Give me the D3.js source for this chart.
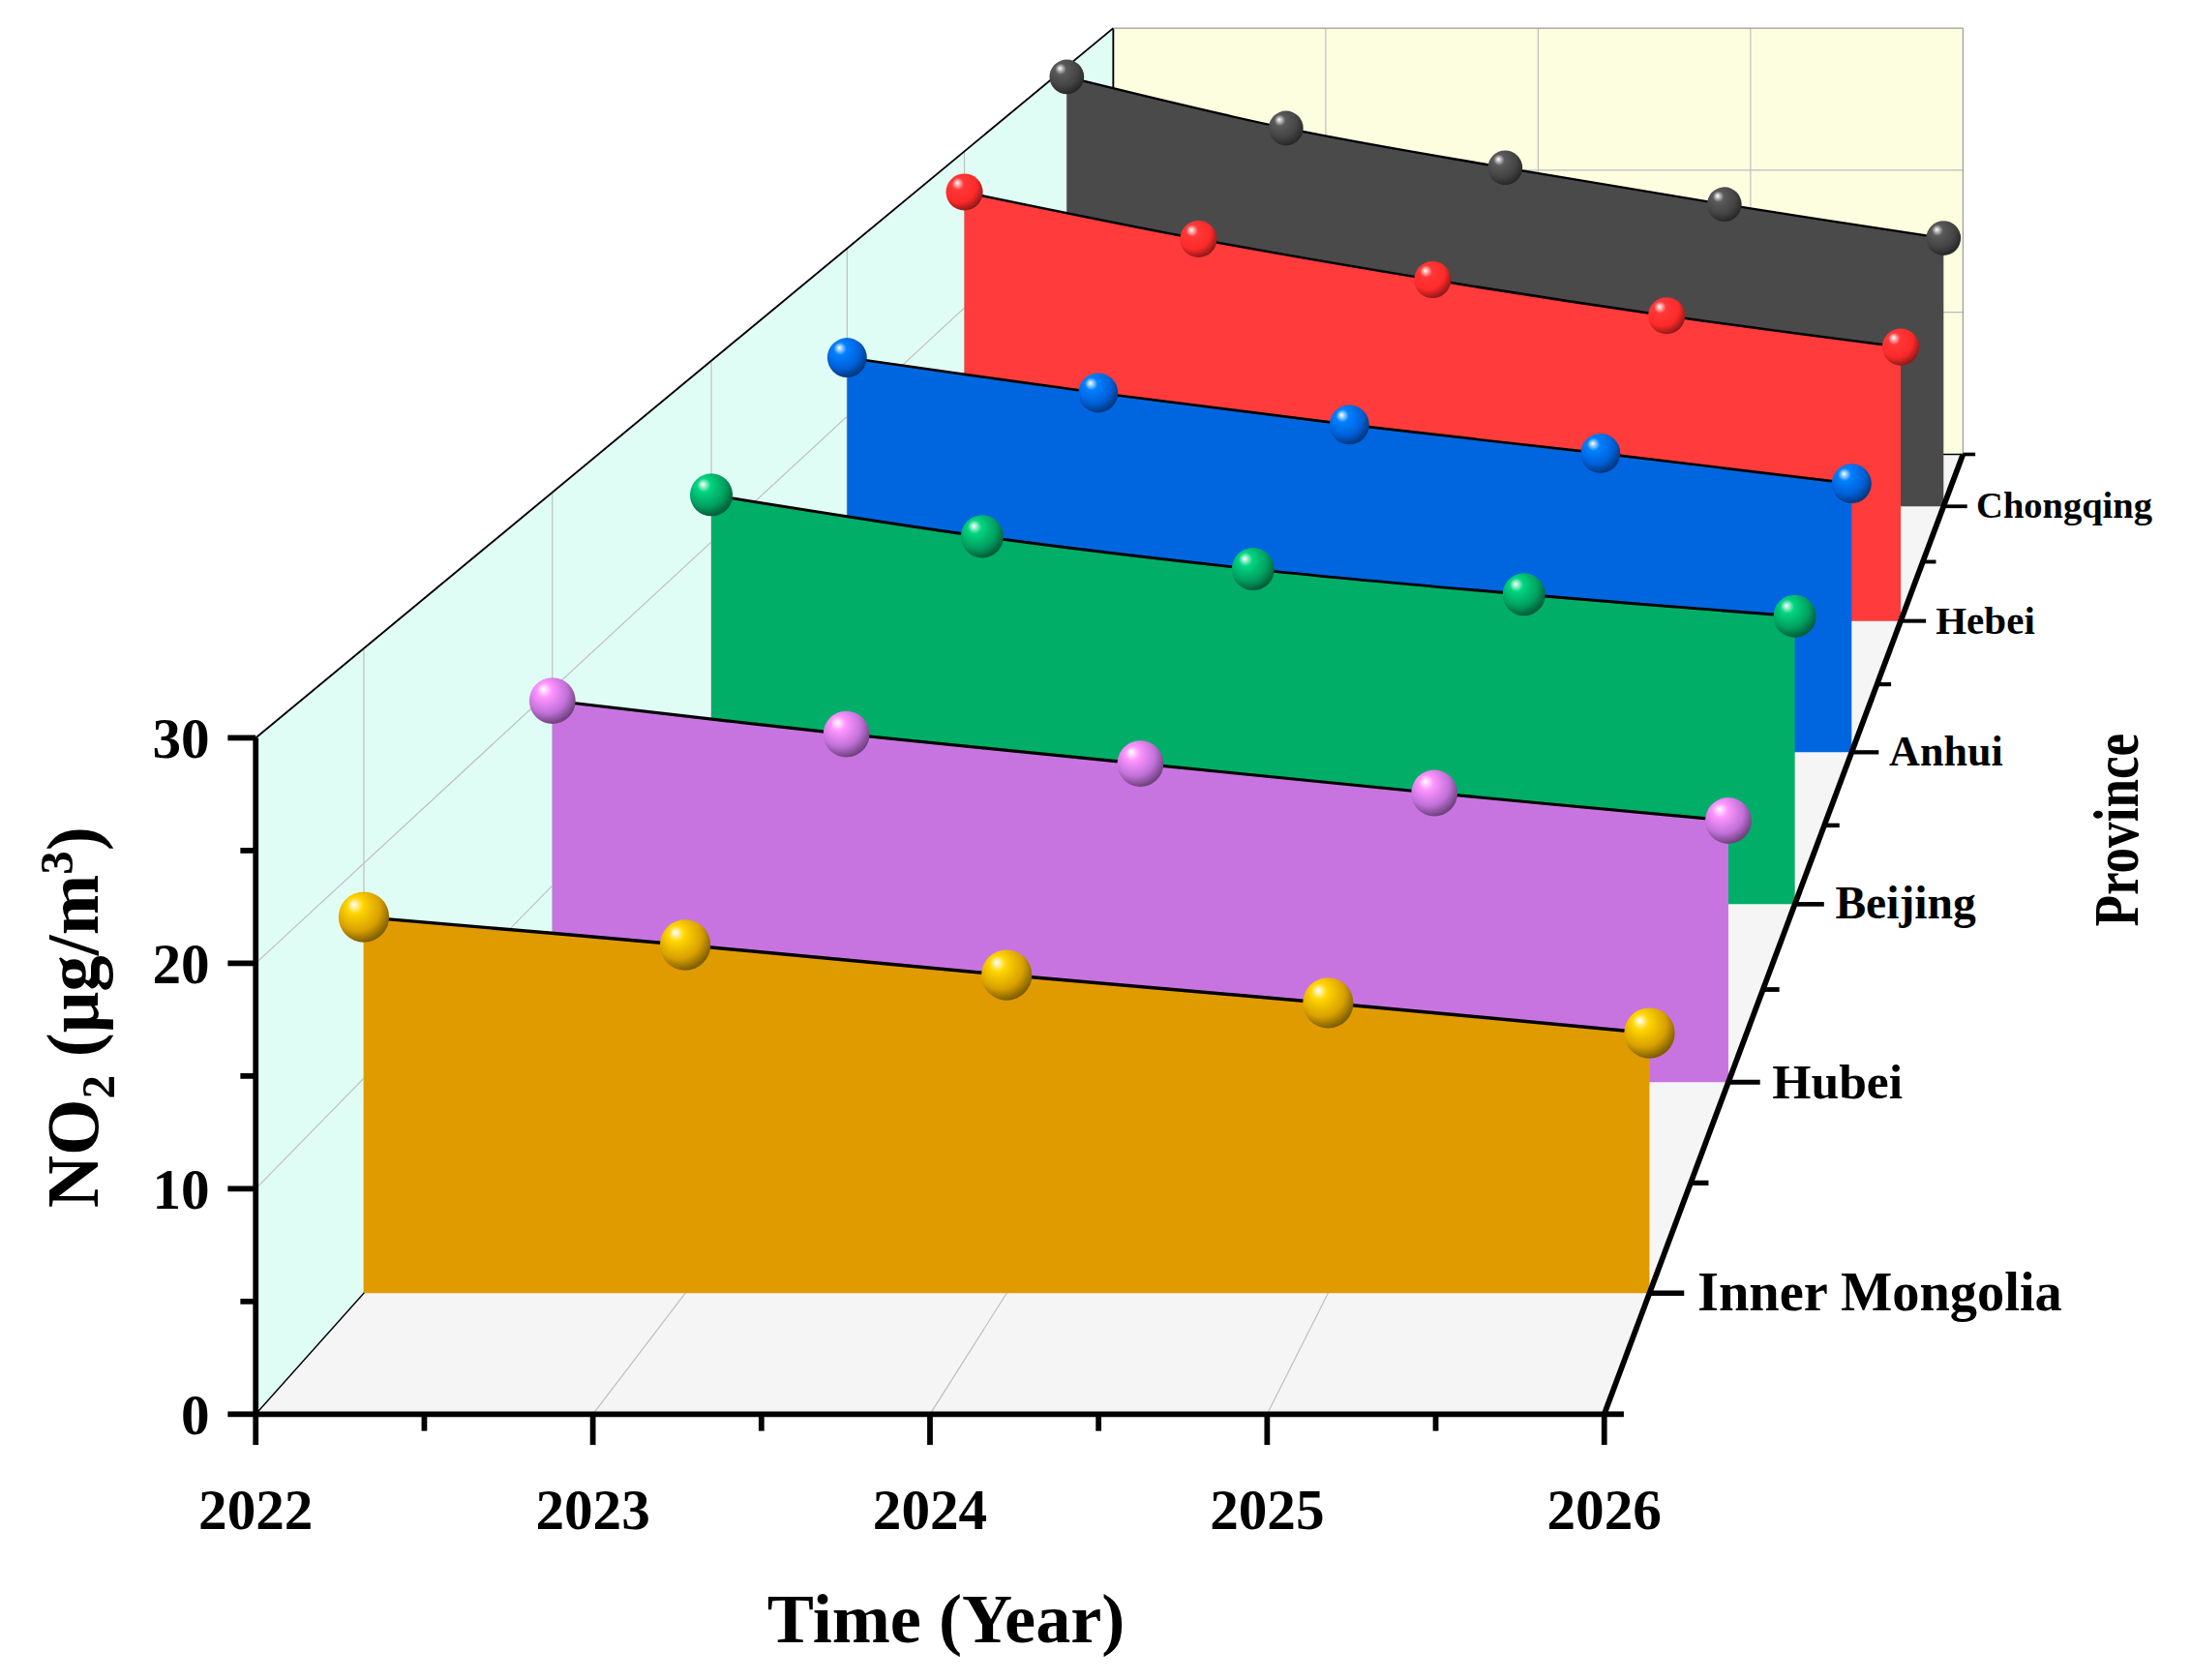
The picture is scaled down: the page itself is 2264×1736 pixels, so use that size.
<!DOCTYPE html>
<html><head><meta charset="utf-8">
<script src="https://cdn.jsdelivr.net/npm/d3@7"></script>
<style>body{margin:0;background:#fff}svg text{font-family:"Liberation Serif","Times New Roman",serif;font-weight:bold}</style>
</head><body><div id="chart"></div>
<script>
// data
const years = [2022, 2023, 2024, 2025, 2026];
const provinces = ["Inner Mongolia", "Hubei", "Beijing", "Anhui", "Hebei", "Chongqing"];
const colors = ["#e09b00", "#c874e0", "#00ae68", "#0066e0", "#ff3b3b", "#4a4a4a"];
const sphereColors = ["#d9a000", "#c070d8", "#00a060", "#0060d8", "#ff2a2a", "#444444"];
const innerMongolia = [17.5, 16.2, 14.8, 13.5, 12.1];
const hubei = [19.4, 17.7, 16.2, 14.7, 13.3];
const beijing = [22.6, 20.3, 18.5, 17.1, 15.9];
const anhui = [23.5, 21.4, 19.5, 17.8, 16.0];
const hebei = [27.4, 24.4, 21.8, 19.5, 17.5];
const chongqing = [29.3, 25.8, 23.1, 20.6, 18.3];
const series = [innerMongolia, hubei, beijing, anhui, hebei, chongqing];

const SCALE = 1.444;
const svg = d3.select("#chart").append("svg").attr("width", 2264).attr("height", 1736);
const defs = svg.append("defs");
const root = svg.append("g").attr("transform", `scale(${SCALE})`);

// front plane scales + perspective into depth
const x = d3.scaleLinear().domain([2022, 2026]).range([183, 1148]);
const y = d3.scaleLinear().domain([0, 30]).range([1012, 528]);
const z = d3.scaleLinear().domain([0, 6]).range([0, 1]);
const VP = [1842, -845], K = 0.587;
const sc = zz => 1 / (1 + K * zz);
function P(xv, yv, zz) {
  const s = sc(zz), px = x(xv), py = y(yv);
  return [VP[0] + (px - VP[0]) * s, VP[1] + (py - VP[1]) * s];
}
const poly = pts => "M" + pts.map(p => p.join(",")).join("L") + "Z";
const seg = (g, a, b) => g.append("line").attr("x1", a[0]).attr("y1", a[1]).attr("x2", b[0]).attr("y2", b[1]);

// walls and floor
root.append("path").attr("d", poly([P(2022, 0, 0), P(2026, 0, 0), P(2026, 0, 1), P(2022, 0, 1)])).attr("fill", "#f5f5f5");
root.append("path").attr("d", poly([P(2022, 0, 0), P(2022, 30, 0), P(2022, 30, 1), P(2022, 0, 1)])).attr("fill", "#e0fdf5");
root.append("path").attr("d", poly([P(2022, 0, 1), P(2022, 30, 1), P(2026, 30, 1), P(2026, 0, 1)])).attr("fill", "#fdfde0");

// grid
const grid = root.append("g").attr("stroke", "#bdbdbd").attr("stroke-width", 0.8);
[10, 20].forEach(v => {
  seg(grid, P(2022, v, 0), P(2022, v, 1));
  seg(grid, P(2022, v, 1), P(2026, v, 1));
});
[2023, 2024, 2025].forEach(t => {
  seg(grid, P(t, 0, 0), P(t, 0, 1));
  seg(grid, P(t, 0, 1), P(t, 30, 1));
});
provinces.forEach((p, i) => seg(grid, P(2022, 0, z(i + 0.5)), P(2022, 30, z(i + 0.5))));

// edges
const edges = root.append("g").attr("stroke", "#000").attr("stroke-width", 1.3);
seg(edges, P(2022, 30, 0), P(2022, 30, 1));
seg(edges, P(2022, 30, 1), P(2022, 0, 1));
seg(edges, P(2022, 0, 0), P(2022, 0, 1)).attr("stroke-width", 1);
seg(edges, P(2022, 0, 1), P(2026, 0, 1)).attr("stroke-width", 1);
seg(edges, P(2022, 30, 1), P(2026, 30, 1)).attr("stroke", "#999").attr("stroke-width", 0.8);
seg(edges, P(2026, 30, 1), P(2026, 0, 1)).attr("stroke", "#999").attr("stroke-width", 0.8);

// series, back to front
const line = d3.line().curve(d3.curveCatmullRom);
for (let i = series.length - 1; i >= 0; i--) {
  const zz = z(i + 0.5), s = sc(zz);
  const top = years.map((t, j) => P(t, series[i][j], zz));
  const lineD = line(top);
  const area = lineD + "L" + P(2026, 0, zz).join(",") + "L" + P(2022, 0, zz).join(",") + "Z";
  root.append("path").attr("d", area).attr("fill", colors[i]);
  root.append("path").attr("d", lineD).attr("fill", "none").attr("stroke", "#000").attr("stroke-width", 2.5 * s);
  const gid = "sph" + i;
  const g = defs.append("radialGradient").attr("id", gid).attr("cx", "40%").attr("cy", "35%").attr("r", "65%").attr("fx", "30%").attr("fy", "25%");
  g.append("stop").attr("offset", "0%").attr("stop-color", "#fff");
  g.append("stop").attr("offset", "25%").attr("stop-color", d3.color(sphereColors[i]).brighter(0.8));
  g.append("stop").attr("offset", "70%").attr("stop-color", sphereColors[i]);
  g.append("stop").attr("offset", "100%").attr("stop-color", d3.color(sphereColors[i]).darker(1.5));
  root.selectAll(null).data(top).join("circle")
    .attr("cx", d => d[0]).attr("cy", d => d[1]).attr("r", 19 * s).attr("fill", `url(#${gid})`);
}

// x axis
const ax = root.append("g").attr("stroke", "#000");
ax.append("line").attr("x1", x(2022)).attr("x2", x(2026)).attr("y1", 1012).attr("y2", 1012).attr("stroke-width", 4);
d3.range(2022, 2026.01, 0.5).forEach(t => {
  const major = Number.isInteger(t);
  ax.append("line").attr("x1", x(t)).attr("x2", x(t)).attr("y1", 1012).attr("y2", 1012 + (major ? 22 : 12)).attr("stroke-width", 4);
});
root.selectAll(".xl").data(years).join("text").attr("x", d => x(d)).attr("y", 1094)
  .attr("text-anchor", "middle").attr("font-size", 41).text(d => d);
root.append("text").attr("x", 677).attr("y", 1175).attr("text-anchor", "middle").attr("font-size", 50).text("Time (Year)");

// y axis
ax.append("line").attr("x1", 183).attr("x2", 183).attr("y1", y(0) + 2).attr("y2", y(30)).attr("stroke-width", 4);
d3.range(0, 30.01, 5).forEach(v => {
  const major = v % 10 === 0;
  ax.append("line").attr("x1", 183).attr("x2", 183 - (major ? 20 : 11)).attr("y1", y(v)).attr("y2", y(v)).attr("stroke-width", 4);
});
root.selectAll(".yl").data([0, 10, 20, 30]).join("text").attr("x", 150).attr("y", d => y(d) + 14)
  .attr("text-anchor", "end").attr("font-size", 41).text(d => d);
const yt = root.append("text").attr("transform", "translate(70,728) rotate(-90)").attr("text-anchor", "middle").attr("font-size", 52);
yt.append("tspan").text("NO");
yt.append("tspan").attr("font-size", 34).attr("dy", 12).text("2");
yt.append("tspan").attr("dy", -12).text(" (μg/m");
yt.append("tspan").attr("font-size", 34).attr("dy", -18).text("3");
yt.append("tspan").attr("dy", 18).text(")");

// depth axis
const a0 = P(2026, 0, 0), a1 = P(2026, 0, 1);
ax.append("line").attr("x1", a0[0]).attr("y1", a0[1]).attr("x2", a1[0]).attr("y2", a1[1]).attr("stroke-width", 4);
d3.range(0, 6.01, 0.5).forEach(c => {
  const zz = z(c), s = sc(zz), p = P(2026, 0, zz), major = c % 1 === 0.5;
  ax.append("line").attr("x1", p[0]).attr("y1", p[1]).attr("x2", p[0] + (major ? 26 : 14) * s).attr("y2", p[1]).attr("stroke-width", 4 * s);
});
provinces.forEach((name, i) => {
  const zz = z(i + 0.5), s = sc(zz), p = P(2026, 0, zz);
  root.append("text").attr("x", p[0] + 36 * s).attr("y", p[1] + 13 * s).attr("font-size", 41 * s).text(name);
});
root.append("text").attr("transform", "translate(1530,594) rotate(-90) scale(0.8,1)").attr("text-anchor", "middle")
  .attr("font-size", 46).text("Province");
</script></body></html>
